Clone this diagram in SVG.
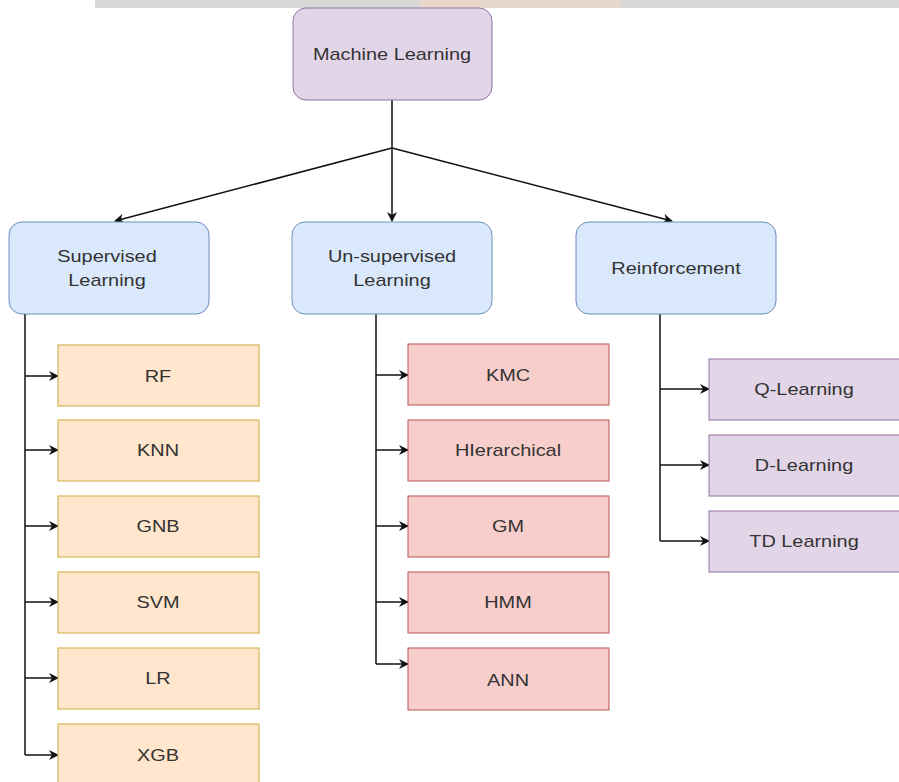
<svg xmlns="http://www.w3.org/2000/svg" width="899" height="782" viewBox="0 0 899 782">
<defs>
<marker id="arr" viewBox="0 0 10 10" refX="9" refY="5" markerWidth="11" markerHeight="10" orient="auto" markerUnits="userSpaceOnUse">
<path d="M0,0 L10,5 L0,10 L3,5 Z" fill="#111"/>
</marker>
<style>
text{font-family:"Liberation Sans",Arial,sans-serif;font-size:17px;fill:#333;text-anchor:middle;dominant-baseline:central}
.root{fill:#e1d5e7;stroke:#9673a6;stroke-width:1}
.cat{fill:#dae8fc;stroke:#6c8ebf;stroke-width:1}
.sup{fill:#ffe6cc;stroke:#d6b656;stroke-width:1.2}
.uns{fill:#f8cecc;stroke:#b85450;stroke-width:1}
.rei{fill:#e1d5e7;stroke:#9673a6;stroke-width:1}
.c{fill:none;stroke:#111;stroke-width:1.5}
</style>
</defs>
<rect width="899" height="782" fill="#fff"/>
<rect x="95" y="0" width="804" height="8" fill="#d8d8d8"/>
<rect x="420" y="0" width="200" height="8" fill="#f0d8c8" opacity="0.7"/>

<g id="connectors">
<path class="c" d="M392,100 V148"/>
<path class="c" d="M392,148 L115,221" marker-end="url(#arr)"/>
<path class="c" d="M392,148 V221" marker-end="url(#arr)"/>
<path class="c" d="M392,148 L672,221" marker-end="url(#arr)"/>
<path class="c" d="M25,314 V755"/>
<path class="c" d="M25,376 H58" marker-end="url(#arr)"/>
<path class="c" d="M25,450 H58" marker-end="url(#arr)"/>
<path class="c" d="M25,526 H58" marker-end="url(#arr)"/>
<path class="c" d="M25,602 H58" marker-end="url(#arr)"/>
<path class="c" d="M25,678 H58" marker-end="url(#arr)"/>
<path class="c" d="M25,755 H58" marker-end="url(#arr)"/>
<path class="c" d="M376,314 V664"/>
<path class="c" d="M376,375 H408" marker-end="url(#arr)"/>
<path class="c" d="M376,450 H408" marker-end="url(#arr)"/>
<path class="c" d="M376,526 H408" marker-end="url(#arr)"/>
<path class="c" d="M376,602 H408" marker-end="url(#arr)"/>
<path class="c" d="M376,664 H408" marker-end="url(#arr)"/>
<path class="c" d="M660,314 V541"/>
<path class="c" d="M660,389 H709" marker-end="url(#arr)"/>
<path class="c" d="M660,465 H709" marker-end="url(#arr)"/>
<path class="c" d="M660,541 H709" marker-end="url(#arr)"/>
</g>

<g id="ml"><rect class="root" x="293" y="8" width="199" height="92" rx="13"/><text transform="translate(392,54) scale(1.17,1)">Machine Learning</text></g>
<g id="supervised"><rect class="cat" x="9" y="222" width="200" height="92" rx="13"/><text transform="translate(107,256) scale(1.17,1)">Supervised</text><text transform="translate(107,280) scale(1.17,1)">Learning</text></g>
<g id="unsupervised"><rect class="cat" x="292" y="222" width="200" height="92" rx="13"/><text transform="translate(392,256) scale(1.17,1)">Un-supervised</text><text transform="translate(392,280) scale(1.17,1)">Learning</text></g>
<g id="reinforcement"><rect class="cat" x="576" y="222" width="200" height="92" rx="13"/><text transform="translate(676,268) scale(1.17,1)">Reinforcement</text></g>

<g id="rf"><rect class="sup" x="58" y="345" width="201" height="61"/><text transform="translate(158,376) scale(1.17,1)">RF</text></g>
<g id="knn"><rect class="sup" x="58" y="420" width="201" height="61"/><text transform="translate(158,450) scale(1.17,1)">KNN</text></g>
<g id="gnb"><rect class="sup" x="58" y="496" width="201" height="61"/><text transform="translate(158,526) scale(1.17,1)">GNB</text></g>
<g id="svm"><rect class="sup" x="58" y="572" width="201" height="61"/><text transform="translate(158,602) scale(1.17,1)">SVM</text></g>
<g id="lr"><rect class="sup" x="58" y="648" width="201" height="61"/><text transform="translate(158,678) scale(1.17,1)">LR</text></g>
<g id="xgb"><rect class="sup" x="58" y="724" width="201" height="61"/><text transform="translate(158,755) scale(1.17,1)">XGB</text></g>

<g id="kmc"><rect class="uns" x="408" y="344" width="201" height="61"/><text transform="translate(508,375) scale(1.17,1)">KMC</text></g>
<g id="hier"><rect class="uns" x="408" y="420" width="201" height="61"/><text transform="translate(508,450) scale(1.17,1)">HIerarchical</text></g>
<g id="gm"><rect class="uns" x="408" y="496" width="201" height="61"/><text transform="translate(508,526) scale(1.17,1)">GM</text></g>
<g id="hmm"><rect class="uns" x="408" y="572" width="201" height="61"/><text transform="translate(508,602) scale(1.17,1)">HMM</text></g>
<g id="ann"><rect class="uns" x="408" y="648" width="201" height="62"/><text transform="translate(508,680) scale(1.17,1)">ANN</text></g>

<g id="ql"><rect class="rei" x="709" y="359" width="195" height="61"/><text transform="translate(804,389) scale(1.17,1)">Q-Learning</text></g>
<g id="dl"><rect class="rei" x="709" y="435" width="195" height="61"/><text transform="translate(804,465) scale(1.17,1)">D-Learning</text></g>
<g id="td"><rect class="rei" x="709" y="511" width="195" height="61"/><text transform="translate(804,541) scale(1.17,1)">TD Learning</text></g>
</svg>
